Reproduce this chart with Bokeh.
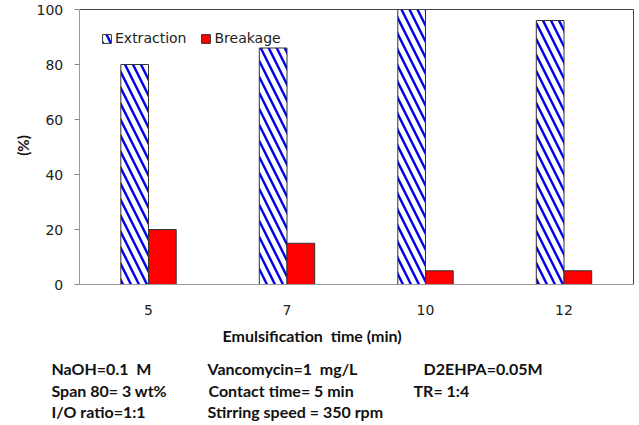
import math
from bokeh.plotting import figure
from bokeh.models import (Range1d, FixedTicker, ColumnDataSource, LinearAxis)
from bokeh.transform import dodge
from bokeh.core.properties import value
from bokeh.embed import file_html
from bokeh.resources import INLINE

# ---- data ----
times = ["5", "7", "10", "12"]
extraction = [80, 86, 100, 96]
breakage = [20, 15, 5, 5]
y_ticks = [0, 20, 40, 60, 80, 100]
x_title = "Emulsification\u00a0 time (min)"
y_title = "(%)"
notes_col1 = ["NaOH=0.1\u00a0 M", "Span 80= 3 wt%", "I/O ratio=1:1"]
notes_col2 = ["Vancomycin=1\u00a0 mg/L", "Contact time= 5 min", "Stirring speed = 350 rpm"]
notes_col3 = ["D2EHPA=0.05M", "TR= 1:4"]

pos = list(range(len(times)))
src = ColumnDataSource(dict(pos=pos, ext=extraction, brk=breakage))

# ---- layout geometry (page pixels) ----
W, H = 636, 423
CAT0_PX, CAT_STEP = 148.0, 138.5      # pixel centre of first category, spacing
Y0_PX, Y100_PX = 284.0, 9.0           # pixel of 0 % and 100 %
PPU_Y = (Y0_PX - Y100_PX) / 100.0

def xd(px):
    return (px - CAT0_PX) / CAT_STEP

def yd(py):
    return (Y0_PX - py) / PPU_Y

x_lo, x_hi = -0.5, len(times) - 0.5

p = figure(x_range=Range1d(xd(0), xd(W)), y_range=Range1d(yd(H), yd(0)),
           width=W, height=H, output_backend="svg", toolbar_location=None,
           x_axis_location=None, y_axis_location=None,
           min_border=0, min_border_left=0, min_border_right=0,
           min_border_top=0, min_border_bottom=0)
p.xgrid.visible = False
p.ygrid.visible = False
p.outline_line_color = None
p.background_fill_color = "white"
p.border_fill_color = "white"

r_ext = p.vbar(x=dodge("pos", -0.1), top="ext", width=0.2, source=src,
               fill_color="white", line_color="#333333", line_width=1,
               hatch_pattern="left_diagonal_line", hatch_color="#0000F0",
               hatch_weight=2.4, hatch_scale=16, legend_label="Extraction")
r_brk = p.vbar(x=dodge("pos", 0.1), top="brk", width=0.2, source=src,
               fill_color="#FF0000", line_color="#333333", line_width=1,
               legend_label="Breakage")

# ---- y axis (left) ----
yax = LinearAxis(fixed_location=x_lo, bounds=(0, 100), ticker=FixedTicker(ticks=y_ticks))
yax.major_tick_out = 5
yax.major_tick_in = 0
yax.minor_tick_line_color = None
yax.major_tick_line_color = "#888888"
yax.axis_line_color = "#999999"
yax.major_label_standoff = 11
yax.major_label_text_font = "DejaVu Sans"
yax.major_label_text_font_size = "14px"
yax.major_label_text_color = "#222222"
p.add_layout(yax, "left")

# ---- x axis (bottom, at 0 %) ----
xax = LinearAxis(fixed_location=0, bounds=(x_lo, x_hi), ticker=FixedTicker(ticks=pos),
                 major_label_overrides={i: t for i, t in zip(pos, times)})
xax.major_tick_line_color = None
xax.minor_tick_line_color = None
xax.major_tick_out = 0
xax.major_tick_in = 0
xax.axis_line_color = "#999999"
xax.major_label_standoff = 20
xax.major_label_text_font = "DejaVu Sans"
xax.major_label_text_font_size = "14px"
xax.major_label_text_color = "#222222"
p.add_layout(xax, "below")

# ---- frame border: top and right ----
top_ax = LinearAxis(fixed_location=100, bounds=(x_lo, x_hi), ticker=FixedTicker(ticks=[]))
right_ax = LinearAxis(fixed_location=x_hi, bounds=(0, 100), ticker=FixedTicker(ticks=[]))
for ax in (top_ax, right_ax):
    ax.axis_line_color = "#444444"
    ax.major_tick_line_color = None
    ax.minor_tick_line_color = None
    ax.major_label_text_font_size = "0px"
p.add_layout(top_ax, "above")
p.add_layout(right_ax, "right")

# ---- legend ----
lg = p.legend[0]
lg.orientation = "horizontal"
lg.location = (101, H - 46)
lg.margin = 0
lg.padding = 0
lg.spacing = 14
lg.label_standoff = 3
lg.glyph_width = 11
lg.glyph_height = 11
lg.border_line_color = None
lg.background_fill_alpha = 0
lg.label_text_font = "DejaVu Sans"
lg.label_text_font_size = "14px"
lg.label_text_color = "#222222"

# ---- texts ----
bold = dict(text_font=value("Lato"), text_font_style="bold", text_color="#111111",
            text_baseline="middle")
p.text(x=[xd(22)], y=[yd(145)], text=[y_title], angle=math.pi / 2,
       text_align="center", text_font_size="15px", **bold)
p.text(x=[xd(222)], y=[yd(335)], text=[x_title], text_align="left",
       text_font_size="16px", **bold)
rows_py = [368, 390, 411]
p.text(x=[xd(51)] * 3, y=[yd(v) for v in rows_py], text=notes_col1,
       text_align="left", text_font_size="16px", **bold)
p.text(x=[xd(207), xd(208), xd(207)], y=[yd(v) for v in rows_py], text=notes_col2,
       text_align="left", text_font_size="16px", **bold)
p.text(x=[xd(423), xd(413)], y=[yd(v) for v in rows_py[:2]], text=notes_col3,
       text_align="left", text_font_size="16px", **bold)

open("out.html", "w").write(file_html(p, INLINE))
